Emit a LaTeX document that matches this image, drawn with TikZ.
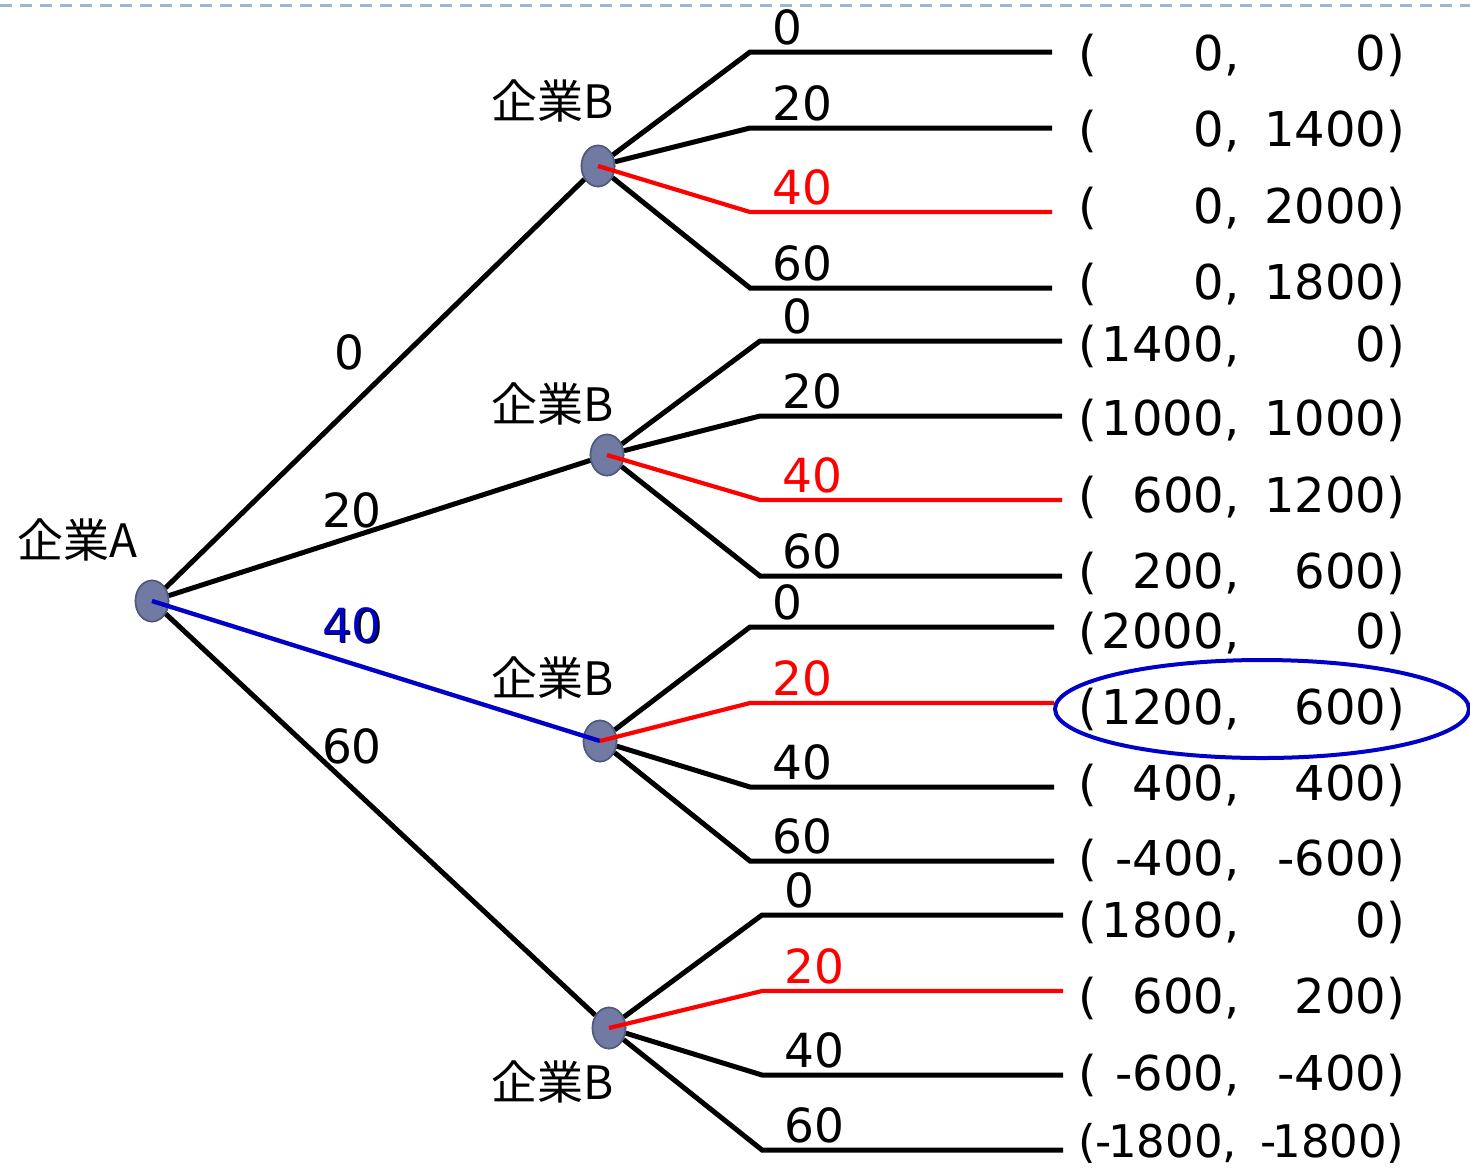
\documentclass[tikz,border=0pt]{standalone}
\usepackage{fontspec}
\setmainfont{DejaVu Sans}
\newfontfamily\jpfont{Noto Sans CJK JP}
\newfontfamily\payfont{DejaVu Sans}
\usetikzlibrary{shapes.geometric}
\definecolor{decfill}{RGB}{112,122,162}
\definecolor{decline}{RGB}{80,90,125}
\definecolor{dashcol}{RGB}{160,182,202}
\definecolor{pickred}{RGB}{255,0,0}
\definecolor{pickblue}{RGB}{0,0,200}
\newcommand\payoff[2]{(\makebox[63.5pt][r]{#1},\makebox[73.5pt][r]{#2})}
\tikzset{
  dec/.style={ellipse,fill=decfill,draw=decline,line width=0.8pt,minimum width=16.5pt,minimum height=20.5pt,inner sep=0pt},
  br/.style={line width=2.5pt,black},
  redbr/.style={line width=2.1pt,pickred},
  bluebr/.style={line width=2.2pt,pickblue},
  num/.style={font=\fontsize{23.5}{28}\selectfont,inner sep=0pt},
  player/.style={font=\jpfont\fontsize{23}{27}\selectfont,inner sep=0pt},
  pay/.style={font=\payfont\fontsize{24}{28}\selectfont,inner sep=0pt,anchor=base west},
  topdash/.style={dashcol,line width=1.5pt,dash pattern=on 6pt off 4pt},
  circ/.style={draw=pickblue,line width=2pt,ellipse,minimum width=207pt,minimum height=49pt,inner sep=0pt}
}
\begin{document}
\begin{tikzpicture}[x=0.5pt,y=-0.5pt]
\useasboundingbox (0,0) rectangle (1470,1168);
\coordinate (dl) at (0,5);
\coordinate (dr) at (1470,5);
\draw[topdash] (dl) -- (dr);

% decision nodes
\node[dec] (A) at (152,601) {};
\node[player] (LA) at (77,540) {企業A};
\foreach \n/\x/\y/\ex/\tx/\ya/\yb/\yc/\yd/\ly in {
  1/598/166/750/1052/52/128/212/288/101,
  2/607/455/760/1062/341/416/500/576/404,
  3/600/741/750/1054/627/703/787/861/678,
  4/609/1028/762/1063/915/991/1075/1150/1082}{
  \node[dec] (B\n) at (\x,\y) {};
  \node[player] (LB\n) at (553,\ly) {企業B};
  \coordinate (E\n-1) at (\ex,\ya); \coordinate (T\n-1) at (\tx,\ya);
  \coordinate (E\n-2) at (\ex,\yb); \coordinate (T\n-2) at (\tx,\yb);
  \coordinate (E\n-3) at (\ex,\yc); \coordinate (T\n-3) at (\tx,\yc);
  \coordinate (E\n-4) at (\ex,\yd); \coordinate (T\n-4) at (\tx,\yd);
}

% first-stage branches
\draw[br] (A) -- (B1);
\draw[br] (A) -- (B2);
\draw[br] (A) -- (B4);

% second-stage black branches
\foreach \n/\r in {1/3,2/3,3/2,4/2}{
  \foreach \k in {1,2,3,4}{
    \ifnum\k=\r\else
      \draw[br] (B\n) -- (E\n-\k) -- (T\n-\k);
    \fi
  }
}
% redraw nodes on top
\foreach \n/\x/\y in {1/598/166,2/607/455,3/600/741,4/609/1028}{
  \node[dec] at (\x,\y) {};
}
\node[dec] at (152,601) {};

% chosen branches
\draw[bluebr] (A.center) -- (B3.center);
\draw[redbr] (B1.center) -- (E1-3) -- (T1-3);
\draw[redbr] (B2.center) -- (E2-3) -- (T2-3);
\draw[redbr] (B3.center) -- (E3-2) -- (T3-2);
\draw[redbr] (B4.center) -- (E4-2) -- (T4-2);

% first-stage labels
\node[num] (a0) at (349,352) {0};
\node[num] (a20) at (352,510) {20};
\node[num,text=black] (a40s) at (353.5,626.5) {40};
\node[num,text=pickblue] (a40) at (352,625) {40};
\node[num] (a60) at (352,746) {60};

% second-stage labels
\foreach \n/\r in {1/3,2/3,3/2,4/2}{
  \foreach \k/\v in {1/0,2/20,3/40,4/60}{
    \ifnum\k=\r
      \node[num,anchor=south west,text=pickred] (L\n-\k) at ([shift={(22,-6)}]E\n-\k) {\v};
    \else
      \node[num,anchor=south west] (L\n-\k) at ([shift={(22,-6)}]E\n-\k) {\v};
    \fi
  }
}

% payoffs
\node[pay] (P1)  at (1078,52+18)   {\payoff{0}{0}};
\node[pay] (P2)  at (1078,128+18)  {\payoff{0}{1400}};
\node[pay] (P3)  at (1078,205+18)  {\payoff{0}{2000}};
\node[pay] (P4)  at (1078,281+18)  {\payoff{0}{1800}};
\node[pay] (P5)  at (1078,343+18)  {\payoff{1400}{0}};
\node[pay] (P6)  at (1078,417+18)  {\payoff{1000}{1000}};
\node[pay] (P7)  at (1078,494+18)  {\payoff{600}{1200}};
\node[pay] (P8)  at (1078,570+18)  {\payoff{200}{600}};
\node[pay] (P9)  at (1078,630+18)  {\payoff{2000}{0}};
\node[pay] (P10) at (1078,706+18)  {\payoff{1200}{600}};
\node[pay] (P11) at (1078,782+18)  {\payoff{400}{400}};
\node[pay] (P12) at (1078,857+18)  {\payoff{-400}{-600}};
\node[pay] (P13) at (1078,919+18)  {\payoff{1800}{0}};
\node[pay] (P14) at (1078,995+18)  {\payoff{600}{200}};
\node[pay] (P15) at (1078,1072+18) {\payoff{-600}{-400}};
\node[pay,font=\payfont\fontsize{22.5}{27}\selectfont] (P16) at (1078,1140+17)
  {(-\kern-2pt1800,\makebox[75pt][r]{-\kern-2pt1800})};
\node[circ] (ring) at (1262,709) {};
\end{tikzpicture}
\end{document}
